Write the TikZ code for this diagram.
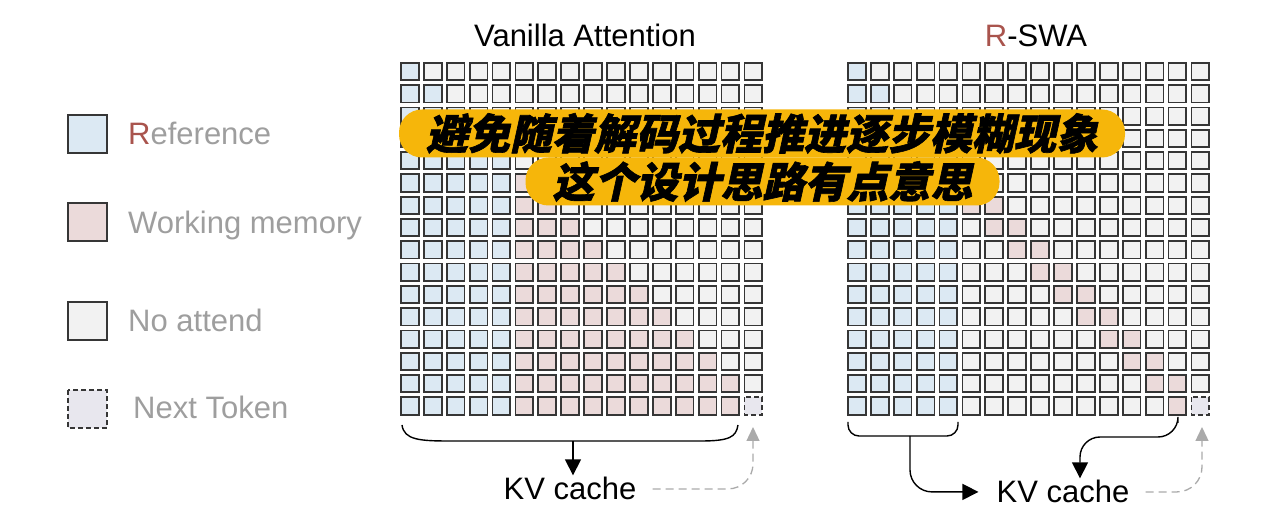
\documentclass[tikz,border=0pt]{standalone}
\usepackage{fontspec}
\setmainfont{Liberation Sans}
\newfontfamily\cjk{Noto Sans CJK SC}[FakeSlant=0.22, BoldFeatures={FakeBold=1.5}]
\usetikzlibrary{arrows.meta}
\definecolor{refblue}{HTML}{DCE9F3}
\definecolor{memrose}{HTML}{EBDADA}
\definecolor{noattgray}{HTML}{F2F2F2}
\definecolor{nextlav}{HTML}{E8E7EE}
\definecolor{cellline}{HTML}{363636}
\definecolor{legendgray}{HTML}{9E9E9E}
\definecolor{rred}{HTML}{A9544D}
\definecolor{bannery}{HTML}{F6B60A}
\definecolor{backgray}{HTML}{AAAAAA}
\tikzset{
  cell/.style={draw=cellline, line width=1.8pt},
  refcell/.style={cell, fill=refblue},
  memcell/.style={cell, fill=memrose},
  noatt/.style={cell, fill=noattgray},
  nextcell/.style={cell, fill=nextlav, dash pattern=on 5pt off 3pt},
  legtext/.style={anchor=base west, inner xsep=0pt, text=legendgray, font=\fontsize{31}{31}\selectfont},
  gridtitle/.style={anchor=base, font=\fontsize{31}{31}\selectfont},
  kv/.style={anchor=base, inner sep=2pt, font=\fontsize{31}{31}\selectfont},
  banner/.style={fill=bannery, rounded corners=23pt, minimum height=48pt,
    inner xsep=27pt, inner ysep=0pt, font=\cjk\bfseries\fontsize{42}{42}\selectfont},
  kvarrow/.style={line width=1.4pt, -{Triangle[width=16pt,length=16pt]}},
  backarrow/.style={draw=backgray, line width=1.3pt, dash pattern=on 8pt off 5pt,
    -{Triangle[width=13pt,length=14pt,fill=backgray]}},
}
\begin{document}
\begin{tikzpicture}[x=1pt, y=-1pt]
  \useasboundingbox (0,0) rectangle (1278,526);

  % legend
  \draw[refcell] (68,115) rectangle (107,153);
  \node[legtext] (lref) at (128,145) {\textcolor{rred}{R}eference};
  \draw[memcell] (68,203) rectangle (107,241);
  \node[legtext] (lmem) at (128,234) {Working memory};
  \draw[noatt] (68,302) rectangle (107,340);
  \node[legtext] (lno) at (128,332) {No attend};
  \draw[nextcell] (68,390) rectangle (107,428);
  \node[legtext] (lnext) at (133,419) {Next Token};

  % vanilla attention
  \node[gridtitle] (tvan) at (585,47) {Vanilla Attention};
  \foreach \i in {0,...,15}{
    \foreach \j in {0,...,15}{
      \def\kind{noatt}
      \ifnum\j>\i\relax\else
        \ifnum\j<5 \def\kind{refcell}\else\def\kind{memcell}\fi
      \fi
      \ifnum\i=15 \ifnum\j=15 \def\kind{nextcell}\fi\fi
      \draw[\kind] ({400.9+22.9*\j},{62.9+22.3*\i}) rectangle ++(17.8,17.3);
    }
  }

  % r-swa
  \node[gridtitle] (tswa) at (1036,47) {\textcolor{rred}{R}-SWA};
  \foreach \i in {0,...,15}{
    \foreach \j in {0,...,15}{
      \def\kind{noatt}
      \ifnum\j>\i\relax\else
        \ifnum\j<5 \def\kind{refcell}\else
          \ifnum\numexpr\j+1\relax<\i\relax\else\def\kind{memcell}\fi
        \fi
      \fi
      \ifnum\i=15 \ifnum\j=15 \def\kind{nextcell}\fi\fi
      \draw[\kind] ({847.9+22.9*\j},{62.9+22.3*\i}) rectangle ++(17.8,17.3);
    }
  }

  % kv cache
  \node[kv] (kvleft) at (570,500) {KV cache};
  \node[kv] (kvright) at (1063,503) {KV cache};

  \coordinate (lbrace) at (573,441);
  \coordinate (nextL) at (753,427);
  \coordinate (rbrace) at (910,436);
  \coordinate (rtail) at (1178,423);
  \coordinate (rbend) at (1080,437);
  \coordinate (nextR) at (1202,427);

  \draw[line width=1.4pt] (402,425) .. controls (404,440) and (420,441) .. (450,441)
    -- (700,441) .. controls (730,441) and (736,437) .. (738,425);
  \draw[kvarrow] (lbrace) -- (lbrace |- kvleft.north);
  \draw[backarrow, rounded corners=25pt] ([xshift=14pt]kvleft.east) -| (nextL);

  \draw[line width=1.4pt, rounded corners=11pt] (848,422) -- (848,436) -- (958,436) -- (958,422);
  \draw[kvarrow, rounded corners=22pt] (rbrace) |- ([xshift=-16pt]kvright.west);
  \draw[kvarrow, rounded corners=20pt] (rtail) |- (rbend) -- (rbend |- kvright.north);
  \draw[backarrow, rounded corners=25pt] ([xshift=14pt]kvright.east) -| (nextR);

  % caption banners
  \node[banner] (capa) at (762,133.5) {避免随着解码过程推进逐步模糊现象};
  \node[banner] (capb) at (762.5,181.5) {这个设计思路有点意思};
\end{tikzpicture}
\end{document}
